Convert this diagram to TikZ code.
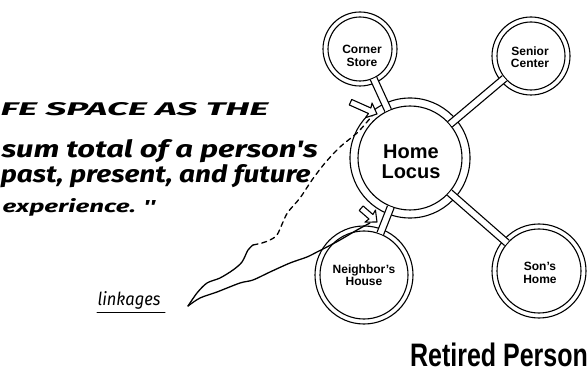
\documentclass[tikz,border=0pt]{standalone}
\usepackage{fontspec}
\setmainfont{Liberation Sans}
\newfontfamily\hand{Fira Sans}
\usetikzlibrary{calc}
\newcommand\spoke[4]{%
  \path ($(#1.center)!#2!(#3.center)$) coordinate (sA) ($(#3.center)!#4!(#1.center)$) coordinate (sB);
  \fill[white] ($(sA)!3.5pt!90:(sB)$) -- ($(sB)!3.5pt!-90:(sA)$) -- ($(sB)!3.5pt!90:(sA)$) -- ($(sA)!3.5pt!-90:(sB)$) -- cycle;
  \draw ($(sA)!3.5pt!90:(sB)$) -- ($(sB)!3.5pt!-90:(sA)$);
  \draw ($(sA)!3.5pt!-90:(sB)$) -- ($(sB)!3.5pt!90:(sA)$);
}
\newcommand\hollowarrow[3]{%
  \begin{scope}[shift={(#1)}, rotate=#2]
    \filldraw[fill=white, line width=1.1pt, line join=round] (-#3,-3) -- (-8,-3) -- (-9,-8) -- (0,0) -- (-9,8) -- (-8,3) -- (-#3,3) -- cycle;
  \end{scope}}
\begin{document}
\begin{tikzpicture}[x=1pt,y=-1pt, line width=1.1pt,
  ring/.style={draw, circle, inner sep=0, line width=1.1pt},
  lbl/.style={font=\bfseries\fontsize{12}{12.5}\selectfont, align=center, inner sep=0},
  hw/.style={anchor=base west, inner sep=0, font=\hand\bfseries\itshape},
  pen/.style={line width=1.3pt, line cap=round, line join=round}]
\useasboundingbox (0,0) rectangle (587,377);
\fill[white] (0,0) rectangle (587,377);

% circles
\node[ring, minimum size=104pt] (hl) at (410,158) {};
\draw (hl.center) circle[radius=60];
\node[ring, minimum size=74pt] (cs) at (360,49) {};
\draw (cs.center) circle[radius=32];
\node[ring, minimum size=78pt] (sc) at (531,56) {};
\draw (sc.center) circle[radius=34];
\node[ring, minimum size=98pt] (nh) at (364,275) {};
\draw (nh.center) circle[radius=44];
\node[ring, minimum size=94pt] (sh) at (539,271) {};
\draw (sh.center) circle[radius=42];

% spokes
\spoke{hl}{52.6pt}{cs}{32.6pt}
\spoke{hl}{52.6pt}{sc}{34.6pt}
\spoke{hl}{52.6pt}{nh}{44.6pt}
\spoke{hl}{52.6pt}{sh}{42.6pt}

% labels
\node[lbl, font=\bfseries\fontsize{20}{20}\selectfont] (hlt) at (411,162) {Home\\Locus};
\node[lbl] (cst) at (362,56) {Corner\\Store};
\node[lbl] (sct) at (530,57) {Senior\\Center};
\node[lbl] (nht) at (364,275) {Neighbor's\\House};
\node[lbl] (sht) at (540,273) {Son's\\Home};
\node[inner sep=0, font=\bfseries\fontsize{25}{25}\selectfont] (title) at (499,355) {\scalebox{1}[1.3]{Retired Person}};

% handwritten text
\node[hw] (t1) at (0,116) {\resizebox{268pt}{13pt}{FE SPACE AS THE}};
\node[hw] (t2) at (1,158) {\resizebox{316pt}{18pt}{sum total of a person's}};
\node[hw] (t3) at (0,183) {\resizebox{310pt}{18pt}{past, present, and future}};
\node[hw] (t4) at (2,212) {\resizebox{153pt}{14pt}{experience. ''}};
\node[hw, font=\hand\itshape] (lk) at (97,305) {\resizebox{63pt}{14pt}{linkages}};
\draw[pen, line width=1pt] (lk.base west) ++(0,7) coordinate (u1) (u1) -- ++(68,0) coordinate (u2);

% arrows
\coordinate (a1) at (377,114);
\coordinate (a2) at (377,222);
\coordinate (ptip) at (188,306);
\hollowarrow{a1}{-24}{29}
\hollowarrow{a2}{-41}{21}

% pointer lines
\draw[pen] plot[smooth] coordinates {(ptip) (200,298) (217,292) (240,283) (253,280) (270,272) (290,263) (307,257) (317,252) (325,248) (340,240) (357,230) (370,223)};
\draw[pen] plot[smooth] coordinates {(ptip) (197,293) (207,283) (220,278) (233,270) (242,262) (248,250) (253,245)};
\draw[pen, dash pattern=on 5pt off 4pt] plot[smooth] coordinates {(253,245) (262,243) (270,240) (277,235) (283,222) (288,212) (300,198) (312,180) (325,163) (340,147) (357,133) (367,122) (372,116)};
\end{tikzpicture}
\end{document}
